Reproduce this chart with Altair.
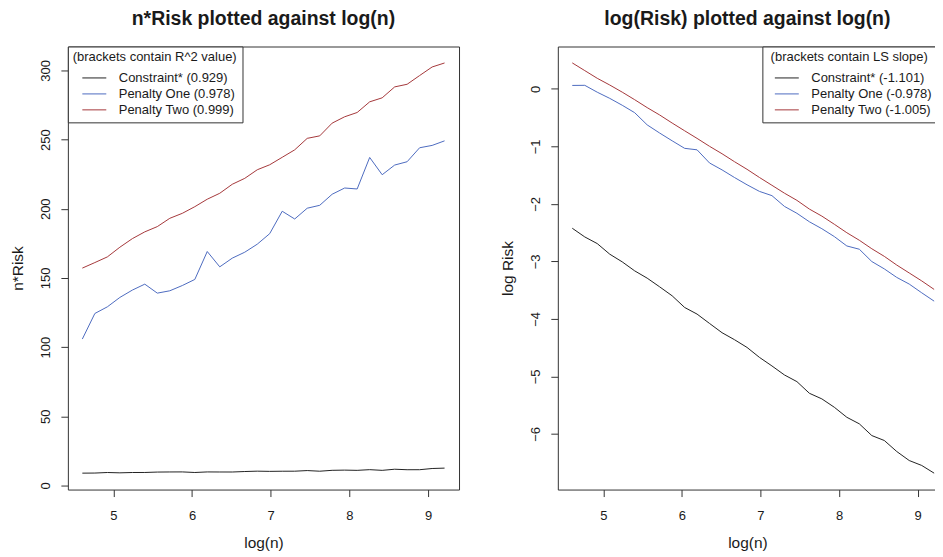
import altair as alt
import pandas as pd

# x values: log(n)
log_n = [4.605, 4.764, 4.923, 5.082, 5.241, 5.399, 5.558, 5.717, 5.876, 6.035,
         6.193, 6.352, 6.511, 6.670, 6.829, 6.987, 7.146, 7.305, 7.464, 7.623,
         7.781, 7.940, 8.099, 8.258, 8.417, 8.576, 8.734, 8.893, 9.052, 9.210]

# left panel: n*Risk
nrisk_constraint = [8.86, 8.93, 9.32, 9.09, 9.32, 9.34, 9.64, 9.72, 9.75, 9.33,
                    9.74, 9.70, 9.68, 10.04, 10.30, 10.15, 10.25, 10.27, 10.72, 10.26,
                    10.90, 11.05, 10.88, 11.38, 10.88, 11.70, 11.33, 11.35, 12.21, 12.50]
nrisk_pen1 = [105.8, 124.3, 129.1, 135.9, 141.2, 145.5, 139.0, 140.7, 144.5, 148.9,
              169.1, 158.0, 164.3, 168.6, 174.4, 182.0, 198.2, 192.6, 200.4, 202.5,
              210.5, 215.0, 214.3, 237.1, 224.6, 231.6, 234.0, 244.1, 245.8, 249.1]
nrisk_pen2 = [157.1, 161.1, 165.2, 172.2, 178.4, 183.3, 187.1, 193.1, 196.7, 201.5,
              206.9, 211.2, 217.7, 222.0, 228.2, 231.8, 237.2, 242.6, 250.9, 252.7,
              261.9, 266.5, 269.6, 277.3, 280.2, 288.1, 290.0, 296.3, 302.5, 305.4]

# right panel: log(Risk)
lrisk_constraint = [-2.424, -2.575, -2.691, -2.875, -3.009, -3.165, -3.292, -3.443, -3.599, -3.802,
                    -3.917, -4.080, -4.241, -4.363, -4.497, -4.670, -4.819, -4.976, -5.092, -5.295,
                    -5.392, -5.538, -5.712, -5.826, -6.030, -6.116, -6.307, -6.464, -6.550, -6.684]
lrisk_pen1 = [0.060, 0.062, -0.058, -0.165, -0.285, -0.414, -0.626, -0.768, -0.903, -1.034,
              -1.060, -1.289, -1.409, -1.542, -1.668, -1.783, -1.857, -2.044, -2.164, -2.312,
              -2.432, -2.569, -2.732, -2.789, -3.003, -3.131, -3.279, -3.395, -3.547, -3.692]
lrisk_pen2 = [0.452, 0.318, 0.184, 0.067, -0.057, -0.188, -0.326, -0.454, -0.594, -0.729,
              -0.861, -0.999, -1.128, -1.267, -1.399, -1.541, -1.677, -1.814, -1.939, -2.091,
              -2.213, -2.355, -2.502, -2.633, -2.781, -2.913, -3.064, -3.202, -3.340, -3.488]

left_labels = ["Constraint* (0.929)", "Penalty One (0.978)", "Penalty Two (0.999)"]
right_labels = ["Constraint* (-1.101)", "Penalty One (-0.978)", "Penalty Two (-1.005)"]
colors = ["#222222", "#4d6bc0", "#a5383b"]

left_ticks = [0, 50, 100, 150, 200, 250, 300]
right_ticks = [-6, -5, -4, -3, -2, -1, 0]
x_ticks = [5, 6, 7, 8, 9]

FONT = "Liberation Sans"
TXT = "#1a1a1a"


def long_df(series, labels):
    rows = []
    for vals, lab in zip(series, labels):
        for x, v in zip(log_n, vals):
            rows.append({"logn": x, "val": v, "series": lab})
    return pd.DataFrame(rows)


def panel(df, labels, title, ytitle, ydomain, yticks, legend_title, orient, xdomain, width):
    return alt.Chart(df).mark_line(strokeWidth=1).encode(
        x=alt.X("logn:Q",
                scale=alt.Scale(domain=xdomain, nice=False, zero=False),
                axis=alt.Axis(values=x_ticks, title="log(n)", format="d",
                              titleY=46, titleBaseline="top")),
        y=alt.Y("val:Q",
                scale=alt.Scale(domain=ydomain, nice=False, zero=False),
                axis=alt.Axis(values=yticks, title=ytitle, format="d",
                              labelAngle=270, labelAlign="center", labelBaseline="bottom",
                              titleAngle=270, titleX=-50, titleBaseline="middle")),
        color=alt.Color("series:N", sort=labels,
                        scale=alt.Scale(domain=labels, range=colors),
                        legend=alt.Legend(title=legend_title, orient=orient, offset=0,
                                          padding=5, strokeColor="#333", fillColor="white",
                                          cornerRadius=0, symbolType="M-1.5,0H1.5", symbolSize=256,
                                          symbolStrokeWidth=1, symbolOffset=11, labelOffset=16,
                                          symbolFillColor="transparent",
                                          labelFont=FONT, labelFontSize=13, labelColor=TXT,
                                          titleFont=FONT, titleFontSize=13, titleFontWeight="normal",
                                          titleColor=TXT, titleAnchor="middle", titlePadding=5,
                                          rowPadding=0, labelLimit=400, titleLimit=400)),
    ).properties(width=width, height=444,
                 title=alt.TitleParams(title, font=FONT, fontSize=19.5, fontWeight="bold",
                                       color=TXT, anchor="middle", offset=8, dy=-9))


left = panel(long_df([nrisk_constraint, nrisk_pen1, nrisk_pen2], left_labels), left_labels,
             "n*Risk plotted against log(n)", "n*Risk", [-3.0, 317.3], left_ticks,
             "(brackets contain R^2 value)", "top-left", [4.421, 9.394], 392)
right = panel(long_df([lrisk_constraint, lrisk_pen1, lrisk_pen2], right_labels), right_labels,
              "log(Risk) plotted against log(n)", "log Risk", [-6.969, 0.737], right_ticks,
              "(brackets contain LS slope)", "top-right", [4.421, 9.2464], 380)

chart = alt.hconcat(left, right, spacing=40).resolve_scale(color="independent").properties(
    padding={"left": 2, "top": -1, "right": -3, "bottom": 5}
).configure_view(stroke="#333", strokeWidth=1).configure_axis(
    grid=False, domain=False, tickSize=7, tickColor="#333", tickWidth=1,
    labelFont=FONT, labelFontSize=13, labelColor=TXT, labelPadding=8,
    titleFont=FONT, titleFontSize=15.5, titleFontWeight="normal", titleColor=TXT
).configure_axisX(labelPadding=13)

chart.save("out.html", embed_options={"renderer": "svg", "actions": False})
